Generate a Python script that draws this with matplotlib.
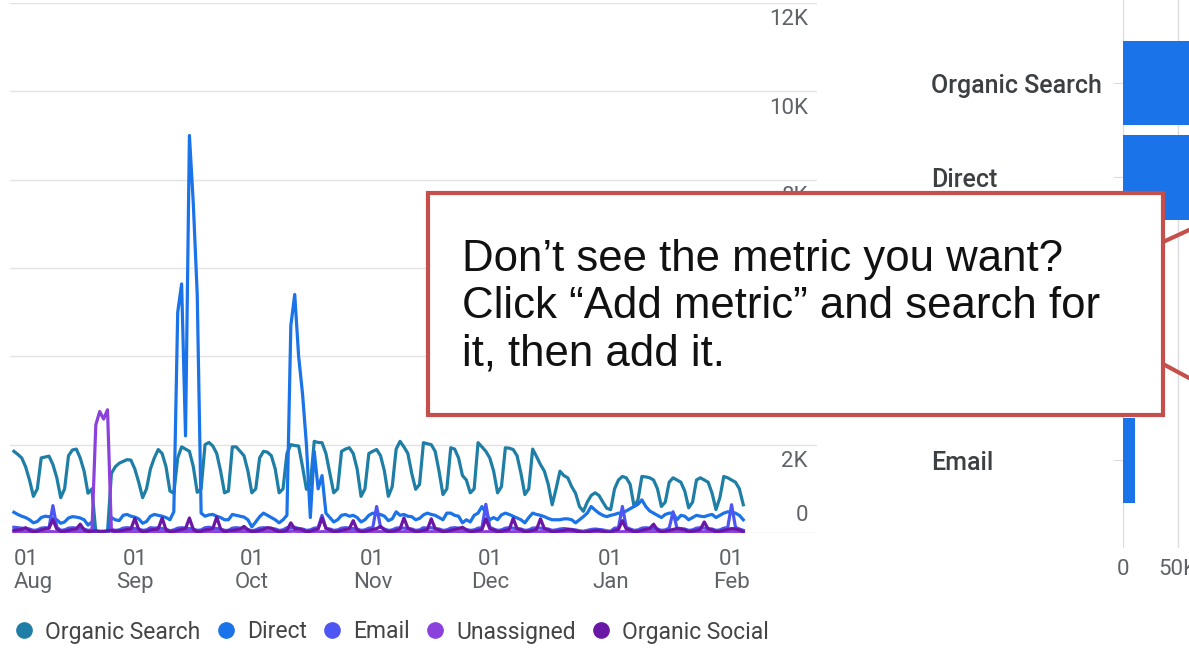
import numpy as np
import pandas as pd
import matplotlib
matplotlib.use("Agg")
import matplotlib.pyplot as plt
import matplotlib.dates as mdates
import matplotlib.transforms as mtransforms
from matplotlib.patches import Rectangle
from matplotlib.lines import Line2D

# daily sessions, Mon 1 Aug 2022 .. Sat 4 Feb 2023 (one week per row)
organic_search = [
    1850, 1780, 1700, 1500, 1200, 830, 1000,
    1700, 1720, 1740, 1550, 1250, 800, 1000,
    1750, 1880, 1900, 1700, 1400, 900, 1000,
    20, 15, 15, 20, 1350, 1500, 1580,
    1620, 1660, 1650, 1450, 1150, 800, 1000,
    1450, 1700, 1890, 1800, 1500, 950, 900,
    1700, 1950, 1900, 1850, 1500, 920, 1000,
    2000, 2050, 1970, 1800, 1400, 910, 950,
    1950, 1950, 1850, 1750, 1400, 910, 1000,
    1700, 1850, 1830, 1750, 1450, 910, 1000,
    1800, 2000, 1980, 1970, 1500, 990, 1100,
    2075, 2050, 2045, 1800, 1350, 910, 1000,
    1850, 1900, 1930, 1800, 1450, 830, 1000,
    1800, 1850, 1890, 1750, 1400, 830, 1050,
    1900, 2075, 1950, 1800, 1350, 990, 1100,
    2045, 2020, 2000, 1850, 1400, 870, 1000,
    1930, 1900, 1700, 1300, 1200, 910, 1000,
    2045, 1950, 1850, 1700, 1400, 910, 1050,
    1930, 1920, 1890, 1750, 1350, 870, 1000,
    1900, 1730, 1550, 1400, 1100, 640, 1000,
    1400, 1300, 1250, 1050, 900, 600, 490,
    700, 850, 910, 850, 700, 560, 530,
    1000, 1200, 1280, 1250, 1100, 600, 750,
    1280, 1270, 1250, 1200, 1000, 600, 700,
    1150, 1250, 1200, 1150, 950, 570, 700,
    1200, 1250, 1200, 1150, 900, 530, 800,
    1280, 1250, 1200, 1150, 1000, 640,
]
direct = [
    470, 420, 380, 350, 300, 230, 260,
    350, 380, 370, 330, 300, 220, 250,
    340, 370, 360, 340, 300, 180, 250,
    15, 10, 10, 15, 350, 300, 280,
    400, 420, 380, 360, 320, 220, 260,
    380, 420, 400, 380, 350, 300, 480,
    5000, 5640, 2200, 9000, 7450, 5400, 450,
    380, 410, 420, 380, 350, 300, 300,
    420, 400, 380, 360, 300, 140, 250,
    370, 450, 400, 350, 300, 230, 300,
    400, 4700, 5400, 4000, 3150, 2000, 350,
    1850, 1000, 1300, 450, 350, 250, 300,
    400, 420, 380, 400, 350, 250, 300,
    400, 450, 430, 420, 380, 280, 320,
    480, 400, 420, 380, 370, 300, 330,
    410, 450, 420, 400, 350, 300, 450,
    450, 400, 380, 230, 300, 250, 400,
    450, 600, 450, 300, 350, 300, 410,
    450, 420, 380, 340, 300, 230, 350,
    450, 420, 400, 370, 330, 300, 300,
    300, 320, 320, 300, 230, 300, 370,
    450, 600, 520, 450, 400, 370, 400,
    420, 450, 450, 500, 550, 600, 650,
    750, 600, 500, 450, 400, 350, 420,
    450, 450, 300, 400, 380, 300, 350,
    400, 380, 370, 400, 420, 350, 400,
    450, 480, 470, 450, 400, 300,
]
email = [
    130, 120, 110, 100, 90, 60, 70,
    110, 120, 110, 620, 130, 60, 70,
    110, 120, 110, 100, 90, 60, 70,
    20, 10, 10, 10, 80, 60, 70,
    110, 120, 110, 100, 90, 60, 70,
    120, 110, 120, 100, 90, 50, 70,
    110, 120, 110, 100, 90, 60, 70,
    120, 130, 110, 100, 90, 60, 60,
    110, 120, 110, 100, 80, 50, 70,
    110, 120, 110, 100, 90, 60, 70,
    120, 110, 130, 100, 90, 60, 70,
    110, 120, 400, 100, 90, 60, 70,
    110, 120, 110, 100, 90, 60, 70,
    110, 120, 600, 130, 90, 60, 70,
    110, 120, 110, 100, 90, 60, 70,
    120, 110, 120, 100, 90, 60, 70,
    110, 120, 110, 90, 80, 60, 70,
    110, 120, 650, 130, 90, 60, 70,
    110, 120, 110, 100, 90, 60, 70,
    110, 120, 110, 100, 90, 60, 70,
    90, 100, 90, 80, 70, 50, 40,
    60, 80, 90, 80, 70, 50, 40,
    110, 120, 600, 130, 90, 60, 70,
    110, 120, 110, 100, 90, 60, 70,
    110, 480, 110, 100, 90, 60, 70,
    110, 120, 110, 100, 90, 60, 70,
    110, 120, 640, 130, 90, 60,
]
unassigned = [
    20, 25, 30, 30, 25, 15, 15,
    20, 25, 30, 30, 25, 15, 15,
    20, 25, 30, 30, 25, 15, 15,
    2450, 2750, 2580, 2790, 40, 30, 30,
    20, 25, 30, 30, 25, 15, 15,
    20, 25, 30, 30, 25, 15, 15,
    25, 30, 30, 40, 30, 15, 15,
    20, 25, 30, 30, 25, 15, 15,
    20, 25, 30, 30, 25, 15, 15,
    20, 25, 30, 30, 25, 15, 15,
    25, 40, 40, 35, 30, 15, 15,
    20, 25, 30, 30, 25, 15, 15,
    20, 25, 30, 30, 25, 15, 15,
    20, 25, 30, 30, 25, 15, 15,
    20, 25, 30, 30, 25, 15, 15,
    20, 25, 30, 30, 25, 15, 15,
    20, 25, 30, 30, 25, 15, 15,
    20, 25, 30, 30, 25, 15, 15,
    20, 25, 30, 30, 25, 15, 15,
    20, 25, 30, 30, 25, 15, 15,
    20, 20, 25, 25, 20, 10, 10,
    15, 20, 25, 25, 20, 10, 10,
    20, 25, 30, 30, 25, 15, 15,
    20, 25, 30, 30, 25, 15, 15,
    20, 25, 30, 30, 25, 15, 15,
    20, 25, 30, 30, 25, 15, 15,
    20, 25, 30, 30, 25, 15,
]
organic_social = [
    60, 70, 80, 120, 60, 30, 40,
    70, 90, 110, 300, 90, 40, 40,
    60, 80, 90, 200, 70, 30, 40,
    50, 40, 40, 50, 60, 40, 50,
    60, 80, 90, 330, 80, 30, 40,
    70, 80, 90, 340, 70, 30, 40,
    60, 80, 100, 340, 80, 30, 40,
    70, 80, 100, 360, 90, 30, 50,
    60, 70, 90, 150, 70, 30, 40,
    60, 80, 120, 110, 60, 30, 40,
    60, 230, 90, 100, 70, 30, 40,
    70, 90, 340, 110, 70, 30, 40,
    60, 80, 100, 280, 70, 30, 40,
    60, 80, 100, 150, 70, 30, 40,
    60, 90, 340, 110, 70, 30, 40,
    60, 80, 320, 100, 70, 30, 40,
    60, 80, 100, 130, 70, 30, 40,
    60, 80, 320, 100, 70, 30, 40,
    60, 80, 330, 100, 70, 30, 40,
    60, 80, 320, 100, 70, 30, 40,
    50, 60, 80, 70, 50, 30, 20,
    30, 40, 60, 60, 40, 20, 20,
    60, 80, 280, 90, 70, 30, 40,
    60, 80, 100, 200, 70, 30, 40,
    60, 80, 100, 90, 70, 30, 40,
    60, 80, 250, 90, 70, 30, 40,
    60, 80, 100, 90, 70, 30,
]

series_names = ["Organic Search", "Direct", "Email", "Unassigned", "Organic Social"]
series_colors = ["#1f7ea6", "#1a73e8", "#4d55f2", "#8b42dc", "#6a17a6"]

bar_labels = ["Organic Search", "Direct", "Unassigned", "Organic Social", "Email"]
bar_values = [260000, 118000, 14000, 12000, 11000]

y_ticks = [0, 2000, 4000, 6000, 8000, 10000, 12000]
y_tick_labels = ["0", "2K", "4K", "6K", "8K", "10K", "12K"]

W, H = 1189, 648
fig = plt.figure(figsize=(W / 100, H / 100), dpi=100)
plt.rcParams["font.family"] = ["Roboto", "DejaVu Sans"]

grey = "#5f6368"
grid_c = "#e3e3e3"

dates = pd.date_range("2022-08-01", periods=len(organic_search), freq="D")
t0 = mdates.date2num(dates[0])

# ---- time series ----
ax = fig.add_axes([10 / W, (H - 533) / H, 807 / W, 530 / H])
for name, vals, col in zip(series_names,
                           [organic_search, direct, email, unassigned, organic_social],
                           series_colors):
    ax.plot(dates, vals, color=col, lw=2.3, solid_joinstyle="round", label=name)

ax.set_xlim(t0 - 1.0, t0 + 205.9)
ax.set_ylim(0, 12000)
ax.set_yticks(y_ticks)
ax.grid(axis="y", color=grid_c, lw=1)
ax.set_axisbelow(True)
for s in ax.spines.values():
    s.set_visible(False)
ax.tick_params(left=False, labelleft=False, bottom=False)

months = pd.date_range("2022-08-01", "2023-02-01", freq="MS")
ax.set_xticks(months)
ax.set_xticklabels(["01\n" + m.strftime("%b") for m in months])
ax.tick_params(axis="x", pad=8, labelsize=16, labelcolor=grey)
for lbl in ax.get_xticklabels():
    lbl.set_linespacing(1.15)
ax.get_xticklabels()[0].set_ha("left")

for v, lab in zip(y_ticks, y_tick_labels):
    if v == 0:
        ax.annotate(lab, xy=(1, v), xycoords=("axes fraction", "data"),
                    xytext=(-6.5, 5), textcoords="offset points",
                    ha="right", va="bottom", fontsize=16, color=grey)
    else:
        ax.annotate(lab, xy=(1, v), xycoords=("axes fraction", "data"),
                    xytext=(-6.5, -4.5), textcoords="offset points",
                    ha="right", va="top", fontsize=16, color=grey)

handles = [Line2D([], [], ls="", marker="o", markersize=11, color=c) for c in series_colors]
fig.legend(handles, series_names, loc="center left",
           bbox_to_anchor=(15 / W, 1 - 632 / H), ncol=5, frameon=False,
           fontsize=16.5, labelcolor="#444444", handlelength=0.8,
           handletextpad=0.52, columnspacing=0.7, borderaxespad=0, borderpad=0)

# ---- bar panel ----
ax2 = fig.add_axes([1123 / W, (H - 548) / H, 220 / W, 548 / H])
ypos = np.arange(len(bar_labels))
ax2.barh(ypos, bar_values, height=0.9, color="#1a73e8", zorder=2)
ax2.set_ylim(4.93, -0.88)
ax2.set_xlim(0, 200000)
ax2.set_xticks([0, 50000, 100000, 150000, 200000])
ax2.set_xticklabels(["0", "50K", "", "", ""])
ax2.grid(axis="x", color="#dadce0", lw=1)
ax2.set_axisbelow(True)
for s in ax2.spines.values():
    s.set_visible(False)
ax2.set_yticks(ypos)
ax2.tick_params(axis="y", length=7, color="#dadce0", labelleft=False)
ax2.tick_params(axis="x", length=0, pad=8, labelsize=16, labelcolor=grey)
tr = mtransforms.blended_transform_factory(fig.transFigure, ax2.transData)
for y, lab in zip(ypos, bar_labels):
    ax2.annotate(lab, xy=(931 / W, y), xycoords=tr, xytext=(0, -2),
                 textcoords="offset points", ha="left", va="center",
                 fontsize=18, fontweight="medium", color="#3c4043")

# ---- callout ----
red = "#c5504b"
box = Rectangle((428 / W, (H - 415) / H), (1163 - 428) / W, (415 - 193) / H,
                transform=fig.transFigure, facecolor="white", edgecolor=red,
                lw=3, zorder=10)
fig.add_artist(box)
fig.add_artist(Line2D([1163 / W, 1.0], [1 - 242 / H, 1 - 230 / H],
                      transform=fig.transFigure, color=red, lw=3, zorder=9))
fig.add_artist(Line2D([1163 / W, 1.0], [1 - 364 / H, 1 - 378 / H],
                      transform=fig.transFigure, color=red, lw=3, zorder=9))
fig.text(462 / W, 1 - 239 / H,
         "Don\u2019t see the metric you want?\n"
         "Click \u201cAdd metric\u201d and search for\n"
         "it, then add it.",
         ha="left", va="top", fontsize=31.5, family="Liberation Sans",
         color="#111111", linespacing=1.2, zorder=11)

fig.savefig("out.png", dpi=100)
